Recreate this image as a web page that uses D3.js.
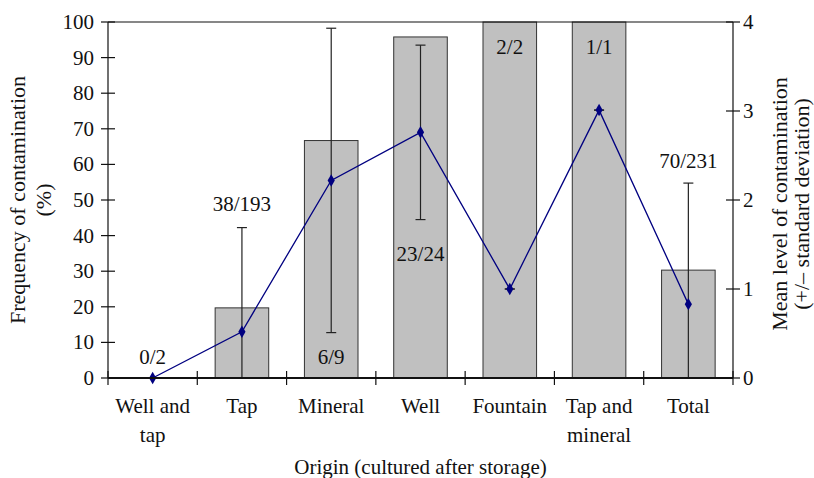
<!DOCTYPE html>
<html>
<head>
<meta charset="utf-8">
<script src="https://cdn.jsdelivr.net/npm/d3@7"></script>
<style>
  body { margin: 0; background: #fff; }
</style>
</head>
<body>
<div id="chart"></div>
<script>
// Chart data
var categories = [["Well and", "tap"], ["Tap"], ["Mineral"], ["Well"], ["Fountain"], ["Tap and", "mineral"], ["Total"]],
    frequency = [0, 19.7, 66.7, 95.8, 100, 100, 30.3],
    counts = ["0/2", "38/193", "6/9", "23/24", "2/2", "1/1", "70/231"],
    meanLevel = [0, 0.52, 2.22, 2.76, 1.0, 3.01, 0.83],
    sdLevel = [0, 1.17, 1.71, 0.98, 0, 0, 1.36],
    // where each count label sits, in % on the left axis
    countPos = [6, 49, 6, 35, 93, 93, 61],
    leftTicks = [0, 10, 20, 30, 40, 50, 60, 70, 80, 90, 100],
    rightTicks = [0, 1, 2, 3, 4];

function createChart(container) {
    "use strict";

    var width = 814,
        height = 478,
        margin = {top: 22, left: 108, right: 81, bottom: 100},
        widthInside = width - margin.left - margin.right,
        heightInside = height - margin.top - margin.bottom,

        svg = container.append("svg")
            .attr("width", width)
            .attr("height", height),
        g = svg.append("g")
            .attr("transform", "translate(" + margin.left + "," + margin.top + ")"),

        idx = d3.range(categories.length),
        x = d3.scaleBand().domain(idx).range([0, widthInside]).paddingInner(0).paddingOuter(0),
        barW = x.bandwidth() * 0.6,
        yL = d3.scaleLinear().domain([0, 100]).range([heightInside, 0]),
        yR = d3.scaleLinear().domain([0, 4]).range([heightInside, 0]),
        cx = function (i) { return x(i) + x.bandwidth() / 2; };

    // same serif text style everywhere
    function serif(sel, size) {
        return sel.style("font-family", "'Liberation Serif'")
            .style("font-size", (size || 21) + "px")
            .style("fill", "#111");
    }

    // Bars
    g.selectAll("rect.bar").data(idx).enter().append("rect")
        .attr("class", "bar")
        .attr("x", function (i) { return cx(i) - barW / 2; })
        .attr("width", barW)
        .attr("y", function (i) { return yL(frequency[i]); })
        .attr("height", function (i) { return heightInside - yL(frequency[i]); })
        .attr("fill", "#c0c0c0")
        .attr("stroke", "#333")
        .attr("stroke-width", 1)
        .style("display", function (i) { return frequency[i] > 0 ? null : "none"; });

    // Top frame line
    g.append("line")
        .attr("x1", 0).attr("x2", widthInside)
        .attr("y1", 0).attr("y2", 0)
        .attr("stroke", "#111").attr("stroke-width", 1.2);

    // Error bars
    var err = g.selectAll("g.err").data(idx).enter().append("g").attr("class", "err");
    err.append("line")
        .attr("x1", cx).attr("x2", cx)
        .attr("y1", function (i) { return yR(Math.max(0, meanLevel[i] - sdLevel[i])); })
        .attr("y2", function (i) { return yR(meanLevel[i] + sdLevel[i]); })
        .attr("stroke", "#222").attr("stroke-width", 1.2);
    err.append("line")
        .attr("x1", function (i) { return cx(i) - 5; })
        .attr("x2", function (i) { return cx(i) + 5; })
        .attr("y1", function (i) { return yR(meanLevel[i] + sdLevel[i]); })
        .attr("y2", function (i) { return yR(meanLevel[i] + sdLevel[i]); })
        .attr("stroke", "#222").attr("stroke-width", 1.2)
        .style("display", function (i) { return i === 0 ? "none" : null; });
    err.append("line")
        .attr("x1", function (i) { return cx(i) - 5; })
        .attr("x2", function (i) { return cx(i) + 5; })
        .attr("y1", function (i) { return yR(meanLevel[i] - sdLevel[i]); })
        .attr("y2", function (i) { return yR(meanLevel[i] - sdLevel[i]); })
        .attr("stroke", "#222").attr("stroke-width", 1.2)
        .style("display", function (i) { return (i === 0 || meanLevel[i] - sdLevel[i] <= 0) ? "none" : null; });

    // Mean level line
    var line = d3.line()
        .x(function (i) { return cx(i); })
        .y(function (i) { return yR(meanLevel[i]); });
    g.append("path")
        .datum(idx)
        .attr("fill", "none")
        .attr("stroke", "#000080")
        .attr("stroke-width", 1.3)
        .attr("d", line);
    g.selectAll("path.marker").data(idx).enter().append("path")
        .attr("class", "marker")
        .attr("transform", function (i) { return "translate(" + cx(i) + "," + yR(meanLevel[i]) + ")"; })
        .attr("d", d3.symbol().type(d3.symbolDiamond).size(45))
        .attr("fill", "#000080");

    // Count labels
    serif(g.selectAll("text.count").data(idx).enter().append("text")
        .attr("class", "count")
        .attr("x", cx)
        .attr("y", function (i) { return yL(countPos[i]); })
        .attr("dy", "0.35em")
        .attr("text-anchor", "middle")
        .text(function (i) { return counts[i]; }));

    // Left axis
    var left = g.append("g");
    left.append("line").attr("x1", 0).attr("x2", 0).attr("y1", 0).attr("y2", heightInside)
        .attr("stroke", "#111").attr("stroke-width", 1.2);
    left.selectAll("line.tick").data(leftTicks).enter().append("line")
        .attr("x1", -7).attr("x2", 7)
        .attr("y1", yL).attr("y2", yL)
        .attr("stroke", "#111").attr("stroke-width", 1.2);
    serif(left.selectAll("text").data(leftTicks).enter().append("text")
        .attr("x", -14).attr("y", yL).attr("dy", "0.33em")
        .attr("text-anchor", "end")
        .text(function (d) { return d; }));

    // Right axis
    var right = g.append("g").attr("transform", "translate(" + widthInside + ",0)");
    right.append("line").attr("x1", 0).attr("x2", 0).attr("y1", 0).attr("y2", heightInside)
        .attr("stroke", "#111").attr("stroke-width", 1.2);
    right.selectAll("line.tick").data(rightTicks).enter().append("line")
        .attr("x1", -7).attr("x2", 7)
        .attr("y1", yR).attr("y2", yR)
        .attr("stroke", "#111").attr("stroke-width", 1.2);
    serif(right.selectAll("text").data(rightTicks).enter().append("text")
        .attr("x", 10).attr("y", yR).attr("dy", "0.33em")
        .attr("text-anchor", "start")
        .text(function (d) { return d; }));

    // Bottom axis
    var bottom = g.append("g").attr("transform", "translate(0," + heightInside + ")");
    bottom.append("line").attr("x1", 0).attr("x2", widthInside)
        .attr("stroke", "#111").attr("stroke-width", 1.8);
    bottom.selectAll("line.tick").data(d3.range(categories.length + 1)).enter().append("line")
        .attr("x1", function (i) { return i * x.step(); })
        .attr("x2", function (i) { return i * x.step(); })
        .attr("y1", -7).attr("y2", 7)
        .attr("stroke", "#111").attr("stroke-width", 1.2);
    var lab = serif(bottom.selectAll("text.cat").data(idx).enter().append("text")
        .attr("class", "cat")
        .attr("text-anchor", "middle"));
    lab.selectAll("tspan").data(function (i) {
        return categories[i].map(function (t) { return {t: t, i: i}; });
    }).enter().append("tspan")
        .attr("x", function (d) { return cx(d.i); })
        .attr("y", function (d, j) { return 35 + j * 29; })
        .text(function (d) { return d.t; });

    // Axis titles
    serif(svg.append("text")
        .attr("transform", "translate(25," + (margin.top + heightInside / 2) + ") rotate(-90)")
        .attr("text-anchor", "middle")
        .text("Frequency of contamination"), 22);
    serif(svg.append("text")
        .attr("transform", "translate(51," + (margin.top + heightInside / 2) + ") rotate(-90)")
        .attr("text-anchor", "middle")
        .text("(%)"), 22);
    serif(svg.append("text")
        .attr("transform", "translate(787," + (margin.top + heightInside / 2 + 4) + ") rotate(-90)")
        .attr("text-anchor", "middle")
        .text("Mean level of contamination"), 22);
    serif(svg.append("text")
        .attr("transform", "translate(809," + (margin.top + heightInside / 2 + 4) + ") rotate(-90)")
        .attr("text-anchor", "middle")
        .text("(+/\u2013 standard deviation)"), 22);
    serif(svg.append("text")
        .attr("x", margin.left + widthInside / 2)
        .attr("y", 474)
        .attr("text-anchor", "middle")
        .text("Origin (cultured after storage)"));
}

createChart(d3.select("#chart"));
</script>
</body>
</html>
